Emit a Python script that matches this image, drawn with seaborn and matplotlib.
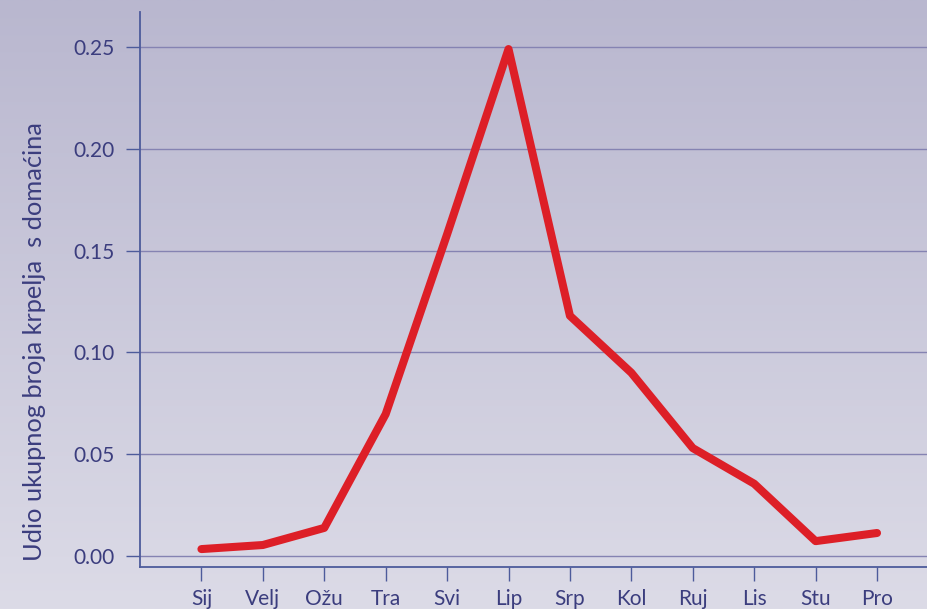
import numpy as np
import pandas as pd
import matplotlib
matplotlib.use("Agg")
import matplotlib.pyplot as plt
from matplotlib.colors import LinearSegmentedColormap
import seaborn as sns

months = ["Sij", "Velj", "Ožu", "Tra", "Svi", "Lip", "Srp", "Kol", "Ruj", "Lis", "Stu", "Pro"]
shares = [0.0034, 0.0054, 0.0138, 0.0697, 0.158, 0.249, 0.118, 0.090, 0.053, 0.0355, 0.0073, 0.0113]
yticks = [0.00, 0.05, 0.10, 0.15, 0.20, 0.25]
ylabel = "Udio ukupnog broja krpelja  s domaćina"

sns.set_theme(style="ticks")
plt.rcParams["font.family"] = ["Lato", "DejaVu Sans"]

txt = "#3b3d7e"
spine = "#4d5b9b"
grid = "#8583b2"

fig = plt.figure(figsize=(9.28, 6.09), dpi=100)

bg = fig.add_axes([0, 0, 1, 1], zorder=-10)
cmap = LinearSegmentedColormap.from_list("bg", ["#dcdbe7", "#b9b7cf"])
bg.imshow(np.linspace(0, 1, 256).reshape(-1, 1), aspect="auto", cmap=cmap,
          origin="lower", extent=[0, 1, 0, 1])
bg.set_axis_off()

ax = fig.add_axes([140 / 928, 1 - 567 / 609, 1 - 140 / 928, (567 - 12) / 609])
ax.set_facecolor("none")

df = pd.DataFrame({"month": months, "share": shares})
df["pos"] = np.arange(len(months))
sns.lineplot(data=df, x="pos", y="share", ax=ax, color="#dd1f27", linewidth=5.8,
             sort=False, solid_capstyle="round", solid_joinstyle="round", zorder=5)

ax.set_xlim(-1, 11.83)
ax.set_ylim(-0.0054, 0.2672)
ax.set_xticks(df["pos"])
ax.set_xticklabels(months)
ax.set_yticks(yticks)
ax.set_yticklabels([f"{v:.2f}" for v in yticks])

for v in yticks:
    ax.axhline(v, color=grid, linewidth=1.0, zorder=1)

for s in ["top", "right"]:
    ax.spines[s].set_visible(False)
for s in ["left", "bottom"]:
    ax.spines[s].set_color(spine)
    ax.spines[s].set_linewidth(1.3)

ax.tick_params(axis="both", colors=spine, length=10, width=1.0, labelcolor=txt,
               labelsize=15, pad=6)
ax.tick_params(axis="y", pad=8)

ax.set_xlabel("")
ax.set_ylabel("")
fig.text(35 / 928, 1 - 342 / 609, ylabel, rotation=90, ha="center", va="center",
         color=txt, fontsize=18.3)

fig.savefig("out.png", dpi=100)
